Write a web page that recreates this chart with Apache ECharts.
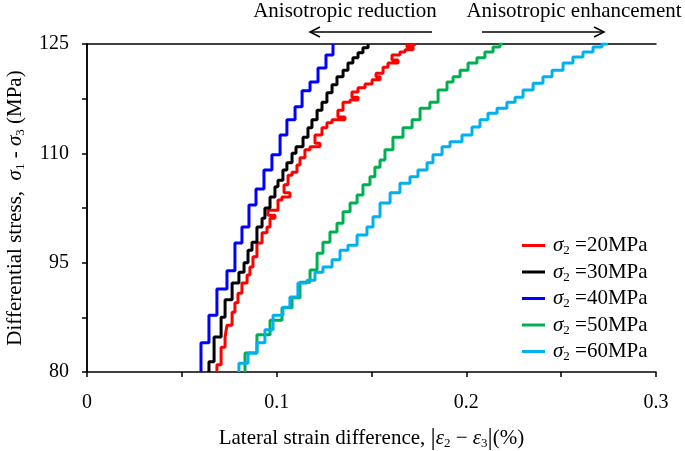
<!DOCTYPE html>
<html><head><meta charset="utf-8">
<script src="https://cdn.jsdelivr.net/npm/echarts@6/dist/echarts.min.js"></script>
<style>html,body{margin:0;padding:0;background:#fff}#c{width:685px;height:451px}</style>
</head><body><div id="c"></div>
<script>
// ---- data (strain in %, stress in MPa) ----
const seriesLabels = ['20MPa', '30MPa', '40MPa', '50MPa', '60MPa'];
const seriesColors = ['#FF0000', '#000000', '#0000FF', '#00B050', '#00B0F0'];

const strain20 = [0.0685,0.0707,0.0728,0.0738,0.0765,0.0780,0.0796,0.0817,0.0844,0.0859,0.0875,0.0896,0.0923,0.0949,0.0965,0.0991,0.0954,0.1007,0.1028,0.1070,0.1039,0.1060,0.1081,0.1107,0.1123,0.1149,0.1176,0.1228,0.1202,0.1239,0.1265,0.1292,0.1360,0.1323,0.1350,0.1387,0.1429,0.1397,0.1429,0.1466,0.1503,0.1545,0.1524,0.1561,0.1587,0.1640,0.1608,0.1650,0.1677,0.1719,0.1687,0.1729,0.1729];
const stress20 = [80,81.0,83.4,84.8,86.4,88.2,89.5,90.8,92.2,93.3,94.4,95.8,97.7,99.1,99.9,101.1,101.5,102.2,103.6,104.0,104.6,105.7,107.0,107.4,108.4,109.4,110.5,110.9,111.4,112.5,113.5,114.2,114.6,115.0,115.9,117.0,117.3,117.7,118.4,119.0,119.5,120.1,120.5,121.0,121.8,122.4,122.8,123.5,123.9,124.2,124.6,124.9,125];

const strain30 = [0.0643,0.0670,0.0707,0.0728,0.0765,0.0801,0.0828,0.0849,0.0870,0.0896,0.0923,0.0938,0.0965,0.0991,0.1007,0.1033,0.1054,0.1081,0.1102,0.1139,0.1165,0.1186,0.1213,0.1239,0.1265,0.1292,0.1318,0.1350,0.1376,0.1402,0.1429,0.1455,0.1482,0.1482];
const stress30 = [80,81.4,84.8,87.5,89.9,92.2,93.7,95.0,96.7,97.8,99.9,101.1,102.5,104.0,105.4,106.3,107.7,108.7,110.0,110.9,112.2,113.5,114.6,115.9,117.0,118.3,119.4,120.5,121.4,122.4,123.1,123.8,124.5,125];

const strain40 = [0.0601,0.0643,0.0685,0.0738,0.0780,0.0817,0.0854,0.0891,0.0933,0.0975,0.1018,0.1054,0.1097,0.1134,0.1176,0.1218,0.1260,0.1297,0.1297];
const stress40 = [80,84.0,87.8,91.4,93.9,97.7,99.9,102.9,105.1,107.7,109.8,112.5,114.6,116.4,118.6,119.8,121.7,123.5,125];

const strain50 = [0.0833,0.0896,0.0965,0.1028,0.1081,0.1123,0.1176,0.1213,0.1244,0.1281,0.1318,0.1350,0.1387,0.1424,0.1455,0.1492,0.1518,0.1545,0.1571,0.1613,0.1666,0.1714,0.1756,0.1808,0.1851,0.1898,0.1930,0.1967,0.2009,0.2056,0.2098,0.2141,0.2177,0.2193];
const stress50 = [80,82.6,85.1,87.1,88.8,90.2,92.3,94.0,96.3,97.8,99.2,100.4,102.0,103.2,104.3,105.7,106.8,108.1,109.1,110.5,112.2,113.5,114.6,116.2,117.0,118.7,119.8,120.5,121.4,122.4,123.1,123.9,124.6,125];

const strain60 = [0.0801,0.0849,0.0896,0.0938,0.0981,0.1033,0.1070,0.1112,0.1160,0.1202,0.1244,0.1292,0.1334,0.1376,0.1424,0.1476,0.1508,0.1545,0.1598,0.1650,0.1703,0.1745,0.1793,0.1824,0.1872,0.1914,0.1977,0.2030,0.2072,0.2114,0.2162,0.2214,0.2257,0.2299,0.2352,0.2404,0.2452,0.2510,0.2562,0.2615,0.2668,0.2715,0.2747];
const stress60 = [80,81.2,82.6,84.0,85.8,87.8,88.9,90.3,92.2,92.6,93.7,94.4,95.4,96.7,97.4,98.8,99.9,101.3,103.2,104.6,105.9,106.8,107.7,108.7,109.8,110.9,111.6,112.5,113.6,114.6,115.5,116.2,117.0,117.7,118.7,119.6,120.5,121.4,122.4,123.2,123.9,124.6,125];

const xTickLabels = ['0', '0.1', '0.2', '0.3'];
const yTickLabels = ['80', '95', '110', '125'];

// ---- chart ----
const FONT = '"Liberation Serif", "Times New Roman", serif';
const FS = 21;
const strains = [strain20, strain30, strain40, strain50, strain60];
const stresses = [stress20, stress30, stress40, stress50, stress60];

const richBase = {
  t: { fontFamily: FONT, fontSize: FS, color: '#000', lineHeight: 24 },
  g: { fontFamily: FONT, fontSize: FS, fontStyle: 'italic', color: '#000', lineHeight: 24 },
  sub: { fontFamily: FONT, fontSize: 13, color: '#000', lineHeight: 14, verticalAlign: 'bottom' },
  bar: { fontFamily: FONT, fontSize: 26, color: '#000', lineHeight: 24 }
};

const chart = echarts.init(document.getElementById('c'), null, { renderer: 'canvas' });

const series = seriesLabels.map((name, i) => ({
  name: name,
  type: 'line',
  step: 'start',
  symbol: 'none',
  data: strains[i].map((x, j) => [x, stresses[i][j]]),
  lineStyle: { color: seriesColors[i], width: 3 },
  itemStyle: { color: seriesColors[i] },
  emphasis: { disabled: true },
  z: 2
}));

const axisLineStyle = { color: '#000', width: 1.5 };

chart.setOption({
  animation: false,
  backgroundColor: '#fff',
  grid: { left: 87, right: 29, top: 44, bottom: 79, containLabel: false, outerBoundsMode: 'none' },
  xAxis: [{
    type: 'value', min: 0, max: 0.3, interval: 0.05,
    axisLine: { show: true, lineStyle: axisLineStyle },
    axisTick: { show: true, inside: false, length: 5, lineStyle: axisLineStyle },
    splitLine: { show: false },
    axisLabel: {
      margin: 21, fontFamily: FONT, fontSize: 20, color: '#000',
      showMinLabel: true, showMaxLabel: true,
      formatter: v => { const k = Math.round(v / 0.05); return k % 2 === 0 ? xTickLabels[k / 2] : ''; }
    },
    name: 'Lateral strain difference, {bar||}{g|ε}{sub|2}{t| − }{g|ε}{sub|3}{bar||}{t|(%)}',
    nameLocation: 'middle', nameGap: 54,
    nameTextStyle: { fontFamily: FONT, fontSize: FS, color: '#000', rich: richBase }
  }, {
    type: 'value', position: 'top', min: 0, max: 0.3,
    axisLine: { show: true, lineStyle: axisLineStyle },
    axisTick: { show: false }, axisLabel: { show: false }, splitLine: { show: false }
  }],
  yAxis: [{
    type: 'value', min: 80, max: 125, interval: 7.5,
    axisLine: { show: true, lineStyle: axisLineStyle },
    axisTick: { show: true, inside: false, length: 5, lineStyle: axisLineStyle },
    splitLine: { show: false },
    axisLabel: {
      margin: 18, fontFamily: FONT, fontSize: 20, color: '#000',
      formatter: v => { const k = Math.round((v - 80) / 7.5); return k % 2 === 0 ? yTickLabels[k / 2] : ''; }
    },
    name: 'Differential stress,  {g|σ}{sub|1}{t| - }{g|σ}{sub|3}{t| (MPa)}',
    nameLocation: 'middle', nameGap: 60, nameRotate: 90,
    nameTextStyle: { fontFamily: FONT, fontSize: FS, color: '#000', rich: richBase }
  }, {
    type: 'value', position: 'right', min: 80, max: 125,
    axisLine: { show: true, lineStyle: axisLineStyle },
    axisTick: { show: false }, axisLabel: { show: false }, splitLine: { show: false }
  }],
  legend: {
    orient: 'vertical', left: 517, top: 230, itemWidth: 23, itemHeight: 3, itemGap: 4,
    icon: 'rect',
    data: seriesLabels,
    formatter: name => '{g|σ}{sub|2}{t| =' + name + '}',
    textStyle: { fontFamily: FONT, fontSize: FS, color: '#000', rich: richBase, padding: [0, 0, 0, 3] },
    selectedMode: false
  },
  graphic: [
    { type: 'text', style: { text: 'Anisotropic reduction', font: FS + 'px ' + FONT, fill: '#000', x: 345, y: 11, align: 'center', verticalAlign: 'middle' } },
    { type: 'text', style: { text: 'Anisotropic enhancement', font: FS + 'px ' + FONT, fill: '#000', x: 574, y: 11, align: 'center', verticalAlign: 'middle' } },
    { type: 'line', shape: { x1: 310, y1: 32, x2: 432, y2: 32 }, style: { stroke: '#000', lineWidth: 1.5 } },
    { type: 'polyline', shape: { points: [[320, 27], [310, 32], [320, 37]] }, style: { stroke: '#000', lineWidth: 1.5, fill: null } },
    { type: 'line', shape: { x1: 482, y1: 32, x2: 604, y2: 32 }, style: { stroke: '#000', lineWidth: 1.5 } },
    { type: 'polyline', shape: { points: [[594, 27], [604, 32], [594, 37]] }, style: { stroke: '#000', lineWidth: 1.5, fill: null } }
  ],
  series: series
});
</script>
</body></html>
